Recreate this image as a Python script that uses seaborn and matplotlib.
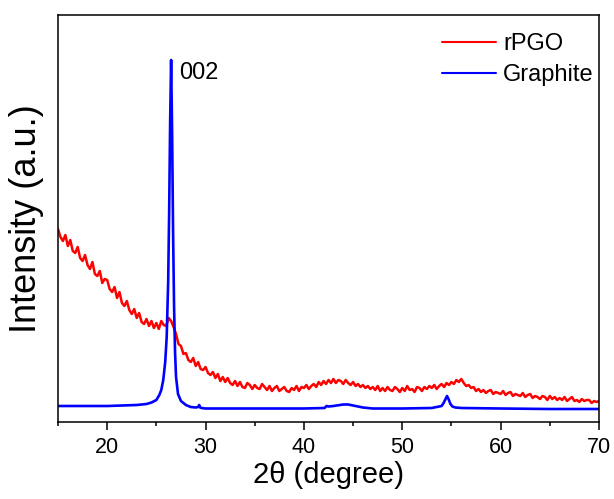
import numpy as np
import pandas as pd
import matplotlib
matplotlib.use("Agg")
import matplotlib.pyplot as plt
import seaborn as sns
from matplotlib.ticker import MultipleLocator

# ---------------- data ----------------
# rPGO: sampled every 0.25 degree from 15 to 70
rpgo_start, rpgo_step = 15.0, 0.25
rpgo_intensity = [
    193, 185, 181, 187,   # 15
    176, 182, 171, 169,   # 16
    175, 164, 161, 167,   # 17
    157, 153, 160, 148,   # 18
    146, 151, 139, 143,   # 19
    142, 133, 130, 135,   # 20
    124, 130, 119, 116,   # 21
    121, 112, 108, 113,   # 22
    104, 109, 100, 98,    # 23
    103, 96, 101, 94,     # 24
    99, 93, 101, 97,      # 25
    96, 104, 101, 95,     # 26
    88, 78, 76, 68,       # 27
    69, 62, 60, 64,       # 28
    56, 60, 53, 52,       # 29
    55, 49, 47, 50,       # 30
    44, 48, 41, 45,       # 31
    40, 44, 39, 37,       # 32
    41, 36, 40, 35,       # 33
    34, 39, 37, 33,       # 34
    37, 34, 33, 38,       # 35
    35, 32, 36, 31,       # 36
    34, 36, 31, 33,       # 37
    35, 31, 30, 34,       # 38
    32, 36, 31, 35,       # 39
    34, 37, 33, 36,       # 40
    38, 35, 40, 37,       # 41
    41, 38, 42, 39,       # 42
    43, 39, 42, 41,       # 43
    38, 42, 39, 37,       # 44
    40, 36, 38, 35,       # 45
    37, 34, 36, 33,       # 46
    35, 32, 36, 31,       # 47
    34, 31, 35, 32,       # 48
    31, 35, 33, 30,       # 49
    34, 31, 36, 32,       # 50
    33, 30, 35, 34,       # 51
    31, 35, 33, 36,       # 52
    34, 37, 33, 36,       # 53
    38, 35, 39, 37,       # 54
    40, 38, 42, 40,       # 55
    43, 39, 36, 37,       # 56
    34, 35, 31, 33,       # 57
    30, 32, 29, 31,       # 58
    32, 28, 30, 29,       # 59
    28, 31, 27, 29,       # 60
    30, 26, 28, 27,       # 61
    26, 29, 25, 27,       # 62
    28, 24, 26, 25,       # 63
    23, 26, 25, 22,       # 64
    26, 23, 25, 22,       # 65
    24, 22, 25, 21,       # 66
    23, 25, 21, 22,       # 67
    20, 23, 21, 22,       # 68
    22, 19, 21, 20,       # 69
    21,                   # 70
]
rpgo_theta = rpgo_start + rpgo_step * np.arange(len(rpgo_intensity))

graphite_theta = [15, 20, 23, 24, 24.5, 25.0, 25.3, 25.5, 25.7, 25.9, 26.05,
                  26.2, 26.3, 26.4, 26.5, 26.6, 26.7, 26.8, 26.9, 27.0, 27.2,
                  27.5, 28, 28.5, 29, 29.25, 29.35, 29.45, 29.6, 30, 35, 40,
                  42.1, 42.3, 42.5, 43, 44, 44.5, 45, 46, 47, 50, 53, 54,
                  54.2, 54.4, 54.55, 54.7, 54.9, 55.1, 55.4, 56, 60, 65, 70]
graphite_intensity = [16, 16, 17, 18, 19.5, 22, 27, 32, 42, 60, 85,
                      140, 210, 300, 362, 290, 190, 115, 70, 45, 28,
                      21, 17, 15, 14.5, 15, 17, 14.5, 14, 13.5, 13.5, 13.5,
                      14, 16, 15.5, 16, 17.5, 17.5, 16.5, 14.5, 13.5, 13.5, 14, 16,
                      19, 23, 26, 23, 18, 15.5, 14.5, 14, 13.5, 13, 13]

series_labels = ["rPGO", "Graphite"]
peak_label = "002"
x_label = "2\u03b8 (degree)"
y_label = "Intensity (a.u.)"
x_ticks = [20, 30, 40, 50, 60, 70]

# ---------------- plot ----------------
sns.set_theme(style="white")
plt.rcParams["font.family"] = ["Liberation Sans", "DejaVu Sans"]
plt.rcParams["text.color"] = "black"
plt.rcParams["axes.labelcolor"] = "black"
plt.rcParams["xtick.color"] = "black"

fig = plt.figure(figsize=(6.14, 4.99), dpi=100)
ax = fig.add_axes([58 / 614, 1 - 422 / 499, (599 - 58) / 614, (422 - 15) / 499])

df_r = pd.DataFrame({"theta": rpgo_theta, "I": rpgo_intensity})
df_g = pd.DataFrame({"theta": graphite_theta, "I": graphite_intensity})

sns.lineplot(data=df_r, x="theta", y="I", ax=ax, color="#ff0000", lw=1.8,
             estimator=None, sort=False, label=series_labels[0])
sns.lineplot(data=df_g, x="theta", y="I", ax=ax, color="#0000ff", lw=1.9,
             estimator=None, sort=False, label=series_labels[1])

ax.set_xlim(15, 70)
ax.set_ylim(0, 407)
ax.set_xticks(x_ticks)
ax.xaxis.set_minor_locator(MultipleLocator(5))
ax.set_yticks([])
ax.tick_params(axis="x", which="major", direction="out", length=6, width=1.1,
               labelsize=15.5, bottom=True, top=False, pad=5, colors="black")
ax.tick_params(axis="x", which="minor", direction="out", length=3, width=1.1,
               bottom=True, top=False)
for s in ax.spines.values():
    s.set_color("black")
    s.set_linewidth(1.1)

ax.set_xlabel(x_label, fontsize=21, labelpad=2)
ax.set_ylabel(y_label, fontsize=26, labelpad=10)

ax.text(27.3, 349, peak_label, fontsize=17, ha="left", va="center")

leg = ax.legend(loc="upper right", bbox_to_anchor=(0.99, 0.955), frameon=False,
                fontsize=17, handlelength=2.3, handletextpad=0.3,
                labelspacing=0.38, borderpad=0, borderaxespad=0)
for line in leg.get_lines():
    line.set_linewidth(1.5)

fig.savefig("out.png", dpi=100)
